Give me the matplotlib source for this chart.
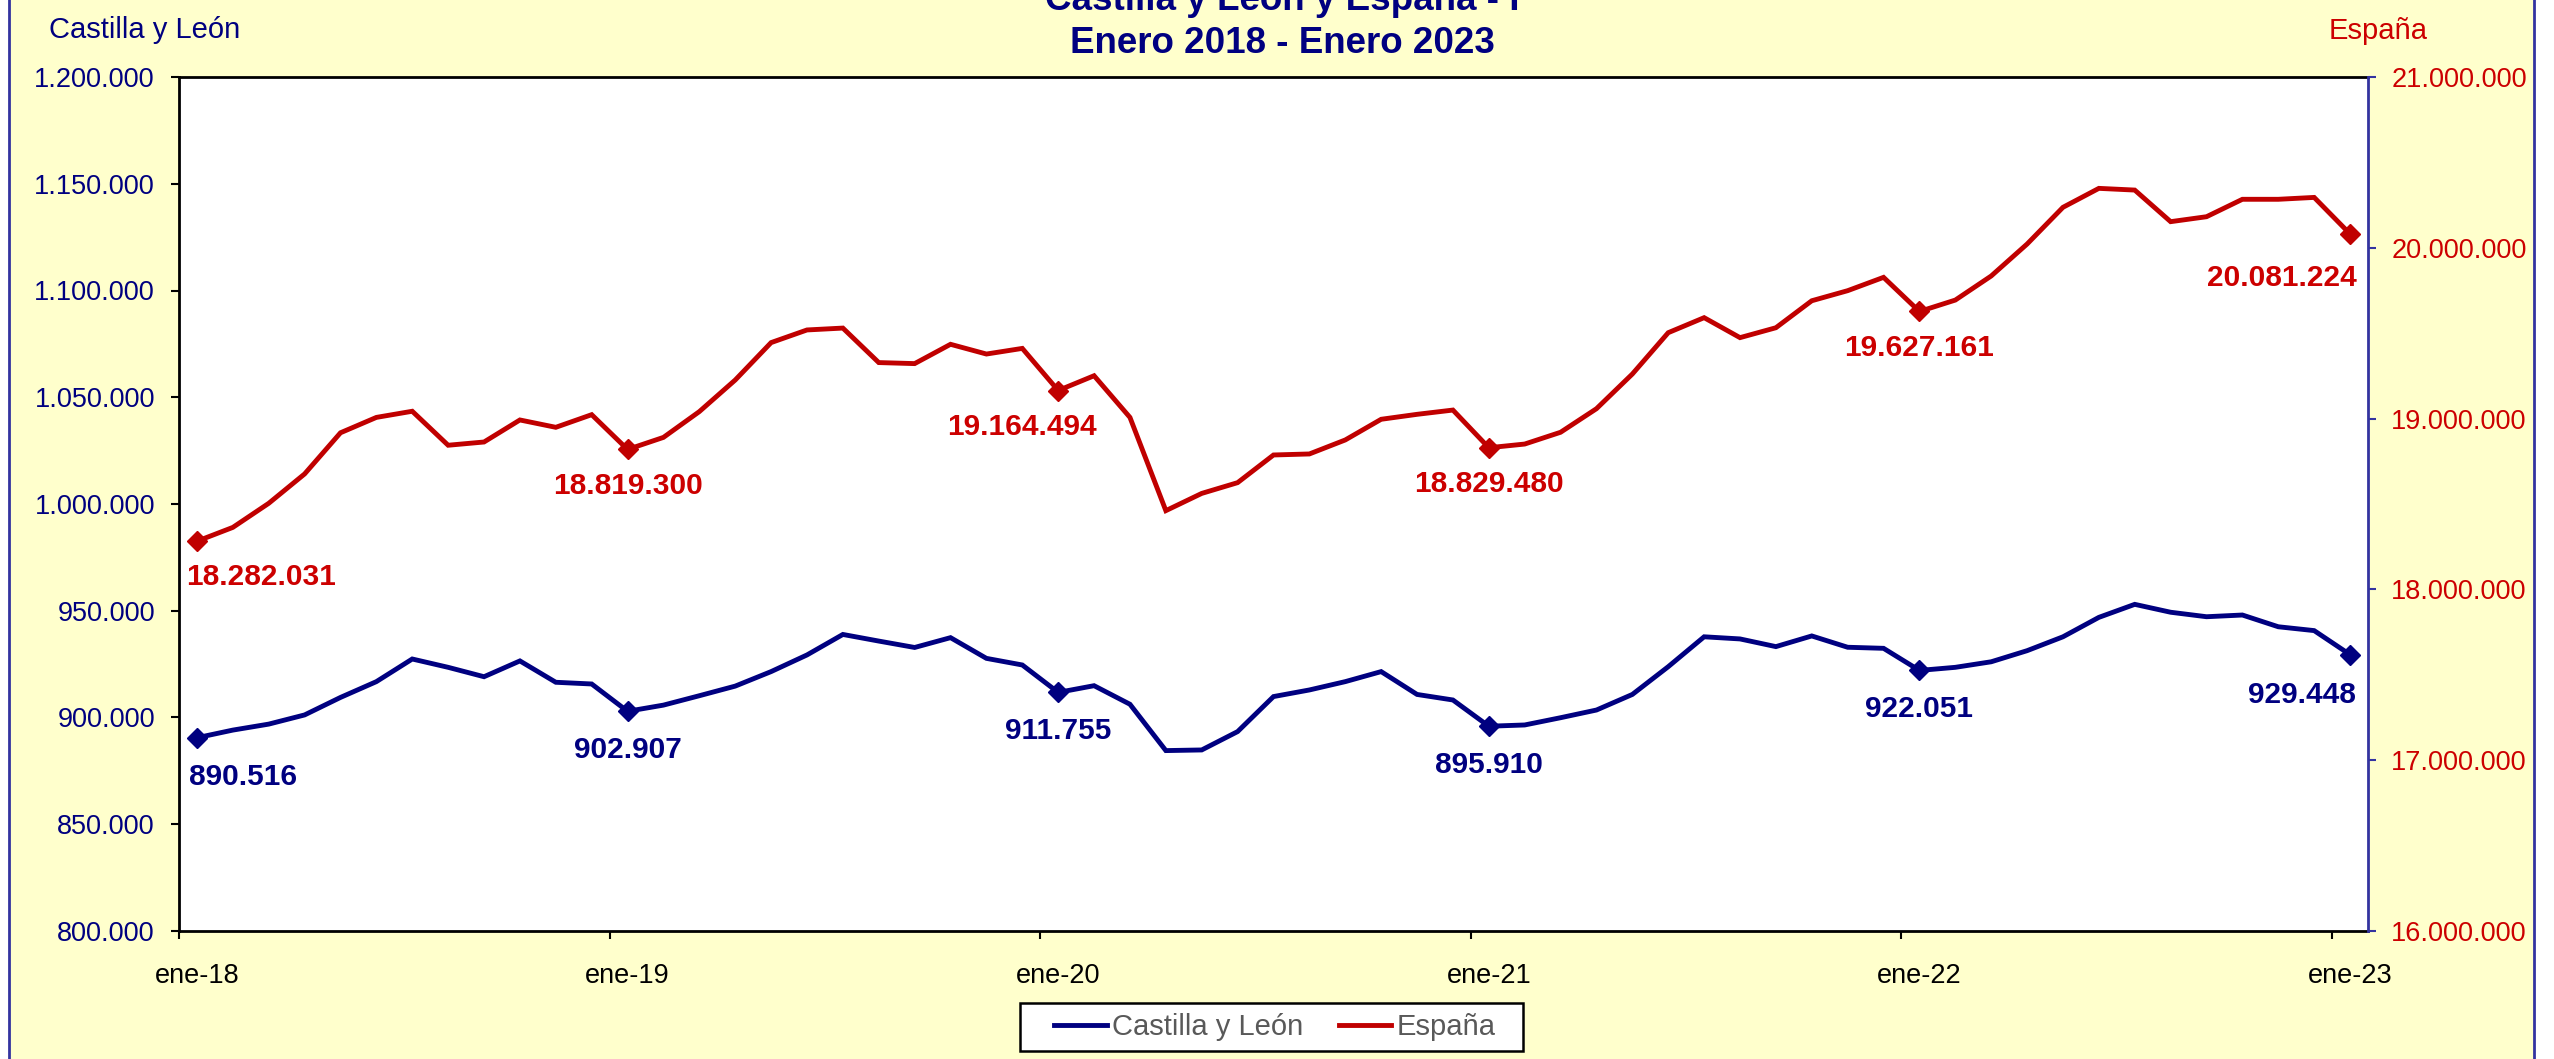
import matplotlib
matplotlib.use("Agg")
import matplotlib.pyplot as plt
from matplotlib.patches import Rectangle
from matplotlib.lines import Line2D
from matplotlib.ticker import FuncFormatter, FixedLocator

plt.rcParams['font.family'] = ['Liberation Sans', 'DejaVu Sans']

# ---------------- data ----------------
months = list(range(61))  # ene-18 .. ene-23
tick_months = [0, 12, 24, 36, 48, 60]
tick_labels = ['ene-18', 'ene-19', 'ene-20', 'ene-21', 'ene-22', 'ene-23']

castilla_leon = [
    890516, 894100, 896900, 901200, 909400, 916800, 927400, 923500, 919100, 926500, 916500, 915700,
    902907, 905800, 910200, 914700, 921500, 929300, 938900, 935800, 932800, 937400, 927700, 924600,
    911755, 914900, 906200, 884500, 884800, 893400, 909800, 912900, 916800, 921500, 910800, 908200,
    895910, 896500, 899900, 903500, 910800, 923800, 937800, 936800, 933200, 938200, 932900, 932400,
    922051, 923500, 926100, 931300, 937800, 946900, 953000, 949300, 947200, 948000, 942500, 940700,
    929448]

espana = [
    18282031, 18363000, 18504000, 18676000, 18917000, 19007000, 19043000, 18844000, 18863000, 18992000, 18949000, 19023000,
    18819300, 18890000, 19041000, 19226000, 19445000, 19519000, 19530000, 19328000, 19322000, 19435000, 19378000, 19411000,
    19164494, 19251000, 19007000, 18461000, 18562000, 18625000, 18787000, 18793000, 18875000, 18996000, 19025000, 19050000,
    18829480, 18851000, 18920000, 19058000, 19261000, 19503000, 19591000, 19474000, 19532000, 19690000, 19749000, 19827000,
    19627161, 19694000, 19835000, 20022000, 20237000, 20348000, 20338000, 20153000, 20182000, 20284000, 20284000, 20295000,
    20081224]

series_names = ['Castilla y León', 'España']
labelled_months = [0, 12, 24, 36, 48, 60]

# label offsets (points) for the data labels: (dx, dy)
cyl_offsets = [(33, -28), (0, -28), (0, -28), (0, -28), (0, -28), (-35, -29)]
esp_offsets = [(46, -26), (0, -26), (-26, -26), (0, -26), (0, -26), (-49, -32)]

BLUE = '#000080'
RED = '#C00000'
RED_TXT = '#CC0000'
SPINE_BLUE = '#3333A0'

W, H = 2554, 1059
fig = plt.figure(figsize=(W / 100, H / 100), dpi=100)
fig.patch.set_facecolor('white')

bg = Rectangle((9 / W, -0.05), (2534 - 9) / W, 1.1, transform=fig.transFigure,
               facecolor='#FFFFCC', edgecolor=SPINE_BLUE, lw=2, zorder=-1)
fig.add_artist(bg)

L, R, T, B = 179, 2368, 77, 931
ax = fig.add_axes([L / W, 1 - B / H, (R - L) / W, (B - T) / H])
ax.set_facecolor('white')
ax2 = ax.twinx()


def fmt(v, pos=None):
    return f"{v:,.0f}".replace(",", ".")


# lines
ax.plot(months, castilla_leon, color=BLUE, lw=3.5, marker='D', markersize=10,
        markevery=labelled_months, solid_joinstyle='miter', label=series_names[0], zorder=3)
ax2.plot(months, espana, color=RED, lw=3.5, marker='D', markersize=10,
         markevery=labelled_months, solid_joinstyle='miter', label=series_names[1], zorder=3)

# data labels
for m, (dx, dy) in zip(labelled_months, cyl_offsets):
    ax.annotate(fmt(castilla_leon[m]), xy=(m, castilla_leon[m]), xytext=(dx, dy),
                textcoords='offset points', ha='center', va='center',
                fontsize=21.5, fontweight='bold', color=BLUE)
for m, (dx, dy) in zip(labelled_months, esp_offsets):
    ax2.annotate(fmt(espana[m]), xy=(m, espana[m]), xytext=(dx, dy),
                 textcoords='offset points', ha='center', va='center',
                 fontsize=21.5, fontweight='bold', color=RED_TXT)

# axes limits / ticks
ax.set_xlim(-0.5, 60.5)
ax.set_ylim(800000, 1200000)
ax2.set_ylim(16000000, 21000000)

ax.set_yticks(list(range(800000, 1200001, 50000)))
ax.yaxis.set_major_formatter(FuncFormatter(fmt))
ax2.set_yticks(list(range(16000000, 21000001, 1000000)))
ax2.yaxis.set_major_formatter(FuncFormatter(fmt))

ax.set_xticks(tick_months)
ax.set_xticklabels(tick_labels)
ax.xaxis.set_minor_locator(FixedLocator([m - 0.5 for m in tick_months]))

ax.tick_params(axis='x', which='major', length=0, pad=23, labelsize=19.5, labelcolor='black')
ax.tick_params(axis='x', which='minor', length=5.8, width=1.5, direction='out', color='black')
ax.tick_params(axis='y', which='major', length=5.8, width=1.5, direction='out', pad=11.5,
               labelsize=19.5, labelcolor=BLUE, color='black')
ax2.tick_params(axis='y', which='major', length=5.8, width=1.5, direction='out', pad=11,
                labelsize=19.5, labelcolor=RED_TXT, color=SPINE_BLUE)

for s in ['top', 'left', 'bottom']:
    ax.spines[s].set_linewidth(2)
    ax.spines[s].set_color('black')
ax.spines['right'].set_visible(False)
for s in ['top', 'left', 'bottom']:
    ax2.spines[s].set_visible(False)
ax2.spines['right'].set_color(SPINE_BLUE)
ax2.spines['right'].set_linewidth(2)

# titles / axis names
fig.text(0.502, 1 - 10 / H, 'Castilla y León y España - I', ha='center', va='baseline',
         fontsize=26.5, fontweight='bold', color=BLUE)
fig.text(0.502, 1 - 53 / H, 'Enero 2018 - Enero 2023', ha='center', va='baseline',
         fontsize=26.5, fontweight='bold', color=BLUE)
fig.text(49 / W, 1 - 38 / H, 'Castilla y León', ha='left', va='baseline',
         fontsize=21, color=BLUE)
fig.text(2329 / W, 1 - 39 / H, 'España', ha='left', va='baseline',
         fontsize=21, color=RED_TXT)

# legend (frame drawn as a separate box to match the wider padding)
frame = Rectangle((1020 / W, 1 - 1051 / H), 503 / W, 48 / H, transform=fig.transFigure,
                  facecolor='white', edgecolor='black', lw=1.8, zorder=4)
fig.add_artist(frame)
handles = [Line2D([], [], color=BLUE, lw=3.5), Line2D([], [], color=RED, lw=3.5)]
leg = fig.legend(handles, series_names, loc='center', bbox_to_anchor=(1275 / W, 1 - 1027 / H),
                 ncol=2, fontsize=21, frameon=False,
                 handlelength=1.8, handletextpad=0.2, columnspacing=1.2, borderpad=0.35)
leg.set_zorder(5)
for t in leg.get_texts():
    t.set_color('#595959')

fig.savefig('out.png', dpi=100)
